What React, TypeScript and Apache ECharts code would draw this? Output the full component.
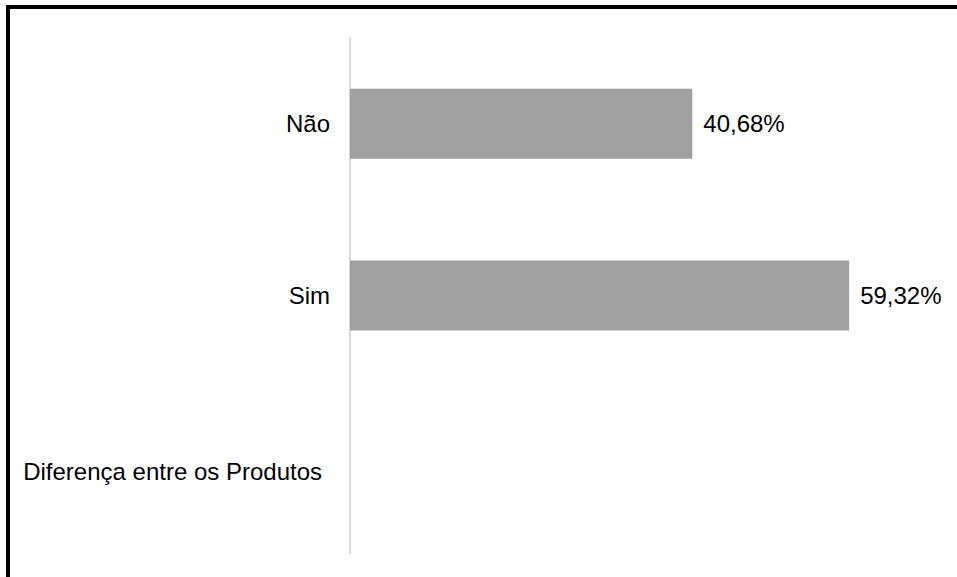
import React, { useEffect, useRef } from "react";
import * as echarts from "echarts";

const categories = ["Diferença entre os Produtos", "Sim", "Não"];
const values: (number | null)[] = [null, 59.32, 40.68];
const axisMax = 70;

export default function App() {
  const ref = useRef<HTMLDivElement>(null);
  useEffect(() => {
    if (!ref.current) return;
    const chart = echarts.init(ref.current, undefined, { renderer: "svg" });
    const font = "Liberation Sans, Arial, sans-serif";
    chart.setOption({
      animation: false,
      backgroundColor: "#ffffff",
      textStyle: { fontFamily: font },
      grid: { left: 350, right: 18, top: 38, bottom: 24, containLabel: false },
      xAxis: {
        type: "value",
        min: 0,
        max: axisMax,
        show: false,
        splitLine: { show: false },
      },
      yAxis: {
        type: "category",
        data: categories,
        axisLine: { show: true, lineStyle: { color: "#d9d9d9", width: 2 } },
        axisTick: { show: false },
        axisLabel: {
          margin: 20,
          color: "#000000",
          fontSize: 24,
          fontFamily: font,
          formatter: (v: string) =>
            v === categories[0] ? `{d|${v}}` : `{n|${v}}`,
          rich: {
            d: { fontSize: 24, fontFamily: font, color: "#000000", padding: [8, 8, 0, 0] },
            n: { fontSize: 24, fontFamily: font, color: "#000000" },
          },
        },
      },
      series: [
        {
          type: "bar",
          data: values,
          barWidth: 70,
          itemStyle: { color: "#a0a0a0" },
          label: {
            show: true,
            position: "right",
            distance: 11,
            color: "#000000",
            fontSize: 24,
            fontFamily: font,
            formatter: (p: any) =>
              p.value == null ? "" : p.value.toFixed(2).replace(".", ",") + "%",
          },
        },
      ],
      graphic: [
        {
          type: "rect",
          left: 6,
          top: 5,
          shape: { width: 951, height: 4 },
          style: { fill: "#000000" },
        },
        {
          type: "rect",
          left: 6,
          top: 5,
          shape: { width: 4, height: 572 },
          style: { fill: "#000000" },
        },
      ],
    });
    return () => chart.dispose();
  }, []);
  return (
    <div
      ref={ref}
      style={{ position: "fixed", left: 0, top: 0, width: 957, height: 577 }}
    />
  );
}
